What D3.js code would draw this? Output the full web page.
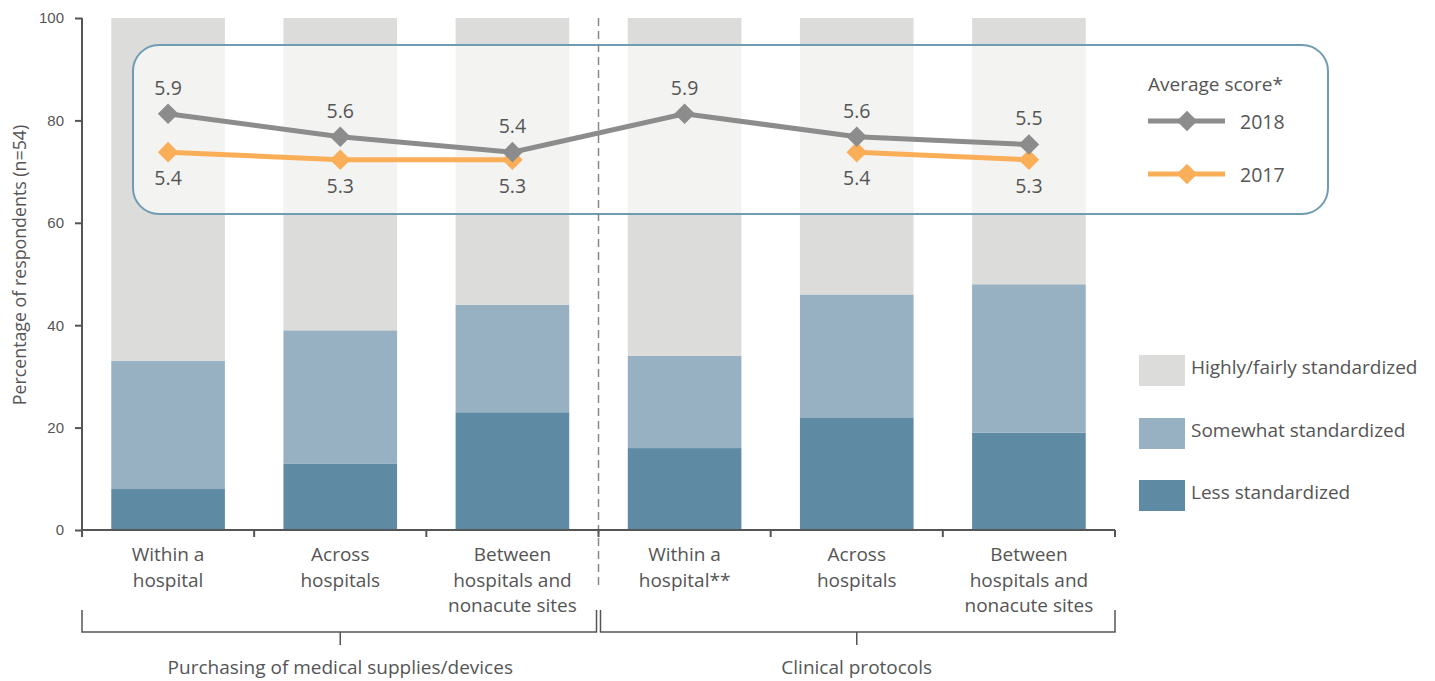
<!DOCTYPE html>
<html>
<head>
<meta charset="utf-8">
<script src="https://cdn.jsdelivr.net/npm/d3@7"></script>
<style>
  html, body { margin: 0; padding: 0; background: #fff; }
  svg { display: block; font-family: "Open Sans", "Noto Sans", sans-serif; }
  text { fill: #555; }
</style>
</head>
<body>
<svg id="chart" width="1435" height="681"></svg>
<script>
// Survey results: share of respondents by standardization level
const categories = [
  ["Within a", "hospital"],
  ["Across", "hospitals"],
  ["Between", "hospitals and", "nonacute sites"],
  ["Within a", "hospital**"],
  ["Across", "hospitals"],
  ["Between", "hospitals and", "nonacute sites"]
];
const groups = ["Purchasing of medical supplies/devices", "Clinical protocols"];
const lessStd     = [8, 13, 23, 16, 22, 19];
const somewhatStd = [25, 26, 21, 18, 24, 29];
const highlyStd   = [67, 61, 56, 66, 54, 52];
const score2018 = [5.9, 5.6, 5.4, 5.9, 5.6, 5.5];
const score2017 = [5.4, 5.3, 5.3, null, 5.4, 5.3];
const yTicks = [0, 20, 40, 60, 80, 100];
const seriesNames = ["Highly/fairly standardized", "Somewhat standardized", "Less standardized"];

const colors = { highly: "#dcdcda", somewhat: "#97b1c2", less: "#5e8ba3", y2018: "#8c8c8c", y2017: "#fbae58" };

const svg = d3.select("#chart");
const plotLeft = 82, plotRight = 1115, plotTop = 18, plotBottom = 530;

const x = d3.scaleBand().domain(d3.range(categories.length)).range([plotLeft, plotRight])
  .paddingInner(0.34).paddingOuter(0.17);
const y = d3.scaleLinear().domain([0, 100]).range([plotBottom, plotTop]);
// average score scale shares the plotting area
const s = d3.scaleLinear().domain([5.3, 5.9]).range([y(72.3), y(81.3)]);

// stacked bars
const rows = categories.map((c, i) => ({ i, less: lessStd[i], somewhat: somewhatStd[i], highly: highlyStd[i] }));
const stack = d3.stack().keys(["less", "somewhat", "highly"])(rows);
svg.append("g").selectAll("g").data(stack).join("g")
  .attr("fill", d => colors[d.key])
  .selectAll("rect").data(d => d).join("rect")
  .attr("x", d => x(d.data.i))
  .attr("width", x.bandwidth())
  .attr("y", d => y(d[1]))
  .attr("height", d => y(d[0]) - y(d[1]));

// rounded panel holding the score lines
svg.append("rect")
  .attr("x", 133).attr("y", 45).attr("width", 1195).attr("height", 169)
  .attr("rx", 26).attr("ry", 26)
  .attr("fill", "#fff").attr("fill-opacity", 0.66)
  .attr("stroke", "#6f9cb3").attr("stroke-width", 2);

// divider between the two groups
const step = x.step();
const divX = plotLeft + step * 3;
svg.append("line")
  .attr("x1", divX).attr("x2", divX).attr("y1", plotTop).attr("y2", 588)
  .attr("stroke", "#888").attr("stroke-width", 1.5).attr("stroke-dasharray", "8,5");

// y axis
const yAxis = svg.append("g").attr("transform", `translate(${plotLeft},0)`)
  .call(d3.axisLeft(y).tickValues(yTicks).tickSize(7).tickPadding(11));
yAxis.select(".domain").attr("stroke", "#555").attr("stroke-width", 2).attr("d", `M0,${plotTop}V${plotBottom + 7}`);
yAxis.selectAll(".tick line").attr("stroke", "#555").attr("stroke-width", 2);
yAxis.selectAll(".tick text").attr("font-size", 15).attr("fill", "#555");

svg.append("text")
  .attr("transform", `translate(26,${(plotTop + plotBottom) / 2 - 9}) rotate(-90)`)
  .attr("text-anchor", "middle").attr("font-size", 17.8)
  .text("Percentage of respondents (n=54)");

// x axis baseline with ticks at band edges
svg.append("line").attr("x1", plotLeft).attr("x2", plotRight).attr("y1", plotBottom).attr("y2", plotBottom)
  .attr("stroke", "#555").attr("stroke-width", 2);
svg.append("g").selectAll("line").data(d3.range(1, categories.length + 1)).join("line")
  .attr("x1", d => plotLeft + d * step).attr("x2", d => plotLeft + d * step)
  .attr("y1", plotBottom).attr("y2", plotBottom + 7)
  .attr("stroke", "#555").attr("stroke-width", 2);

// category labels
svg.append("g").selectAll("text").data(categories).join("text")
  .attr("text-anchor", "middle").attr("font-size", 19)
  .attr("x", (d, i) => x(i) + x.bandwidth() / 2)
  .attr("y", 561)
  .selectAll("tspan").data(d => d).join("tspan")
  .attr("x", function () { return d3.select(this.parentNode).attr("x"); })
  .attr("dy", (d, j) => j === 0 ? 0 : 25.5)
  .text(d => d);

// group brackets
const brackets = [[plotLeft, divX - 2], [divX + 2, plotRight]];
const bg = svg.append("g").attr("stroke", "#555").attr("stroke-width", 1.5).attr("fill", "none");
brackets.forEach(([a, b], gi) => {
  bg.append("path").attr("d", `M${a},610V632H${b}V610`);
  const mid = gi === 0 ? plotLeft + step * 1.5 : plotLeft + step * 4.5;
  bg.append("line").attr("x1", mid).attr("x2", mid).attr("y1", 632).attr("y2", 645);
  svg.append("text").attr("x", mid).attr("y", 674).attr("text-anchor", "middle")
    .attr("font-size", 19).text(groups[gi]);
});

// average score lines (gaps where a year has no score)
const cx = i => x(i) + x.bandwidth() / 2;
const diamond = d3.symbol().type(d3.symbolDiamond2).size(270);
function drawSeries(vals, color, labelDy) {
  const all = vals.map((v, i) => ({ v, i }));
  const pts = all.filter(d => d.v != null);
  svg.append("path").datum(all)
    .attr("fill", "none").attr("stroke", color).attr("stroke-width", 5)
    .attr("d", d3.line().defined(d => d.v != null).x(d => cx(d.i)).y(d => s(d.v)));
  svg.append("g").selectAll("path").data(pts).join("path")
    .attr("transform", d => `translate(${cx(d.i)},${s(d.v)})`)
    .attr("d", diamond).attr("fill", color);
  svg.append("g").selectAll("text").data(pts).join("text")
    .attr("x", d => cx(d.i)).attr("y", d => s(d.v) + labelDy)
    .attr("text-anchor", "middle").attr("font-size", 19.5)
    .text(d => d.v.toFixed(1));
}
drawSeries(score2017, colors.y2017, 33);
drawSeries(score2018, colors.y2018, -19);

// line legend
svg.append("text").attr("x", 1148).attr("y", 91).attr("font-size", 19).text("Average score*");
[["2018", colors.y2018, 121], ["2017", colors.y2017, 174]].forEach(([lab, col, ly]) => {
  svg.append("line").attr("x1", 1148).attr("x2", 1225).attr("y1", ly).attr("y2", ly)
    .attr("stroke", col).attr("stroke-width", 5);
  svg.append("path").attr("transform", `translate(1187,${ly})`).attr("d", diamond).attr("fill", col);
  svg.append("text").attr("x", 1240).attr("y", ly + 8).attr("font-size", 19.5).text(lab);
});

// bar legend
const legColors = [colors.highly, colors.somewhat, colors.less];
const legY = [355, 418, 480];
seriesNames.forEach((n, i) => {
  svg.append("rect").attr("x", 1139).attr("y", legY[i]).attr("width", 46).attr("height", 31).attr("fill", legColors[i]);
  svg.append("text").attr("x", 1191).attr("y", legY[i] + 19).attr("font-size", 19).text(n);
});
</script>
</body>
</html>
